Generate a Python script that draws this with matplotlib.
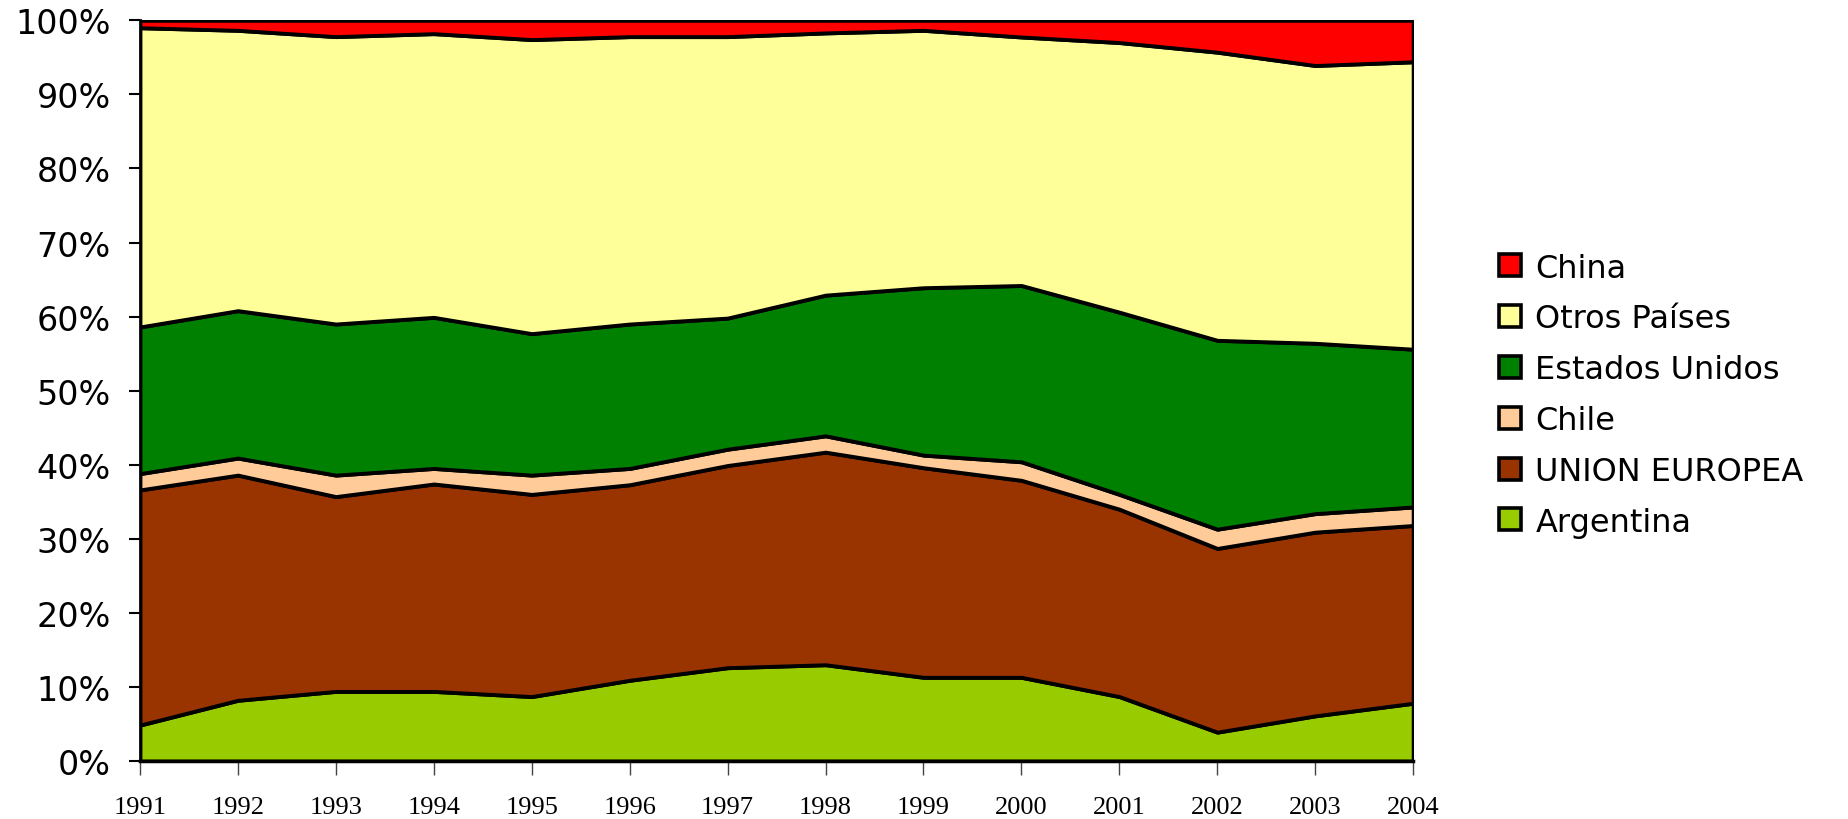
import matplotlib.pyplot as plt
from matplotlib.patches import Patch
from matplotlib.ticker import FuncFormatter
import numpy as np

# Share of exports by destination (%)
years = [1991, 1992, 1993, 1994, 1995, 1996, 1997,
         1998, 1999, 2000, 2001, 2002, 2003, 2004]

argentina = [4.85, 8.2, 9.4, 9.4, 8.7, 10.9, 12.6, 13.0, 11.3, 11.3, 8.7, 3.9, 6.1, 7.8]
union_europea = [31.75, 30.4, 26.3, 28.0, 27.3, 26.4, 27.3, 28.7, 28.3, 26.6, 25.3, 24.8, 24.8, 24.0]
chile = [2.2, 2.3, 2.9, 2.1, 2.6, 2.2, 2.2, 2.2, 1.7, 2.5, 2.0, 2.6, 2.5, 2.5]
estados_unidos = [19.8, 19.9, 20.4, 20.4, 19.1, 19.5, 17.7, 19.0, 22.6, 23.8, 24.6, 25.5, 23.0, 21.3]
otros_paises = [40.4, 37.85, 38.8, 38.3, 39.7, 38.8, 38.0, 35.4, 34.75, 33.55, 36.4, 38.9, 37.5, 38.8]
china = [1.0, 1.35, 2.2, 1.8, 2.6, 2.2, 2.2, 1.7, 1.35, 2.25, 3.0, 4.3, 6.1, 5.6]

series_labels = ["Argentina", "UNION EUROPEA", "Chile",
                 "Estados Unidos", "Otros Países", "China"]
series_colors = ["#99CC00", "#993300", "#FFCC99", "#008000", "#FFFF99", "#FF0000"]


def main() -> None:
    data = [argentina, union_europea, chile, estados_unidos, otros_paises, china]
    # normalise so every year stacks to exactly 100%
    arr = np.array(data, dtype=float)
    arr = arr / arr.sum(axis=0) * 100

    fig = plt.figure(figsize=(18.49, 8.2), dpi=100)
    ax = fig.add_axes([0.0757, 0.0707, 0.6886, 0.9033])

    ax.stackplot(years, arr, colors=series_colors,
                 edgecolor="black", linewidth=2.8)

    ax.set_xlim(years[0], years[-1])
    ax.set_ylim(0, 100)
    ax.set_xticks(years)
    ax.set_xticklabels([str(y) for y in years], family="Liberation Serif",
                       fontsize=19)
    ax.set_yticks(np.arange(0, 101, 10))
    ax.yaxis.set_major_formatter(FuncFormatter(lambda v, _: f"{v:.0f}%"))
    for lab in ax.get_yticklabels():
        lab.set_family("DejaVu Sans")
        lab.set_fontsize(24)

    ax.tick_params(axis="y", length=8, width=1.5, pad=13)
    ax.tick_params(axis="x", length=10, width=1.0, color="#444444", pad=15)
    ax.spines["top"].set_visible(False)
    ax.spines["right"].set_visible(False)
    ax.spines["left"].set_linewidth(2)
    ax.spines["bottom"].set_linewidth(2.5)

    # legend: China on top, Argentina at the bottom
    handles = [Patch(facecolor=c, edgecolor="black", linewidth=2.6)
               for c in series_colors][::-1]
    fig.legend(handles, series_labels[::-1], loc="center left",
               bbox_to_anchor=(0.804, 0.517), frameon=False,
               prop={"family": "DejaVu Sans", "size": 23},
               handlelength=0.68, handleheight=0.68,
               handletextpad=0.45, labelspacing=0.62, borderaxespad=0)

    fig.savefig("out.png", dpi=100)


if __name__ == "__main__":
    main()
